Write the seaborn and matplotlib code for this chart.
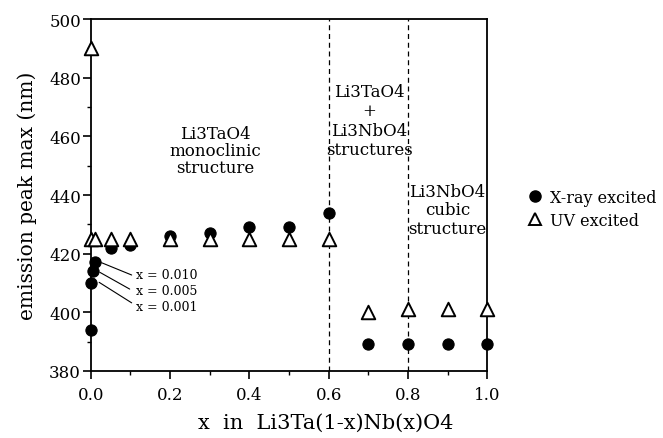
import matplotlib
matplotlib.use("Agg")
import matplotlib.pyplot as plt
import seaborn as sns
import pandas as pd
from matplotlib.lines import Line2D
from matplotlib.ticker import MultipleLocator

sns.set_theme(style="ticks")
plt.rcParams['font.family'] = ['DejaVu Serif']
plt.rcParams['text.color'] = 'black'
plt.rcParams['axes.labelcolor'] = 'black'
plt.rcParams['xtick.color'] = 'black'
plt.rcParams['ytick.color'] = 'black'

# X-ray excited (filled circles)
xray_x = [0.0, 0.001, 0.005, 0.010, 0.05, 0.1, 0.2, 0.3, 0.4, 0.5, 0.6, 0.7, 0.8, 0.9, 1.0]
xray_y = [394, 410, 414, 417, 422, 423, 426, 427, 429, 429, 434, 389, 389, 389, 389]

# UV excited (open triangles)
uv_x = [0.0, 0.0, 0.01, 0.05, 0.1, 0.2, 0.3, 0.4, 0.5, 0.6, 0.7, 0.8, 0.9, 1.0]
uv_y = [490, 425, 425, 425, 425, 425, 425, 425, 425, 425, 400, 401, 401, 401]

phase_bounds = [0.6, 0.8]
low_x_labels = ["x = 0.010", "x = 0.005", "x = 0.001"]

xray_df = pd.DataFrame({"x": xray_x, "y": xray_y})
uv_df = pd.DataFrame({"x": uv_x, "y": uv_y})

fig = plt.figure(figsize=(6.63, 4.39), dpi=100)
ax = fig.add_axes([0.137, 0.153, 0.598, 0.801])

for b in phase_bounds:
    ax.axvline(b, color="black", linestyle=(0, (4, 3)), linewidth=0.9, zorder=1)

sns.scatterplot(data=xray_df, x="x", y="y", ax=ax, marker="o", s=65,
                color="black", edgecolor="black", linewidth=0.8, clip_on=False, zorder=3)
sns.scatterplot(data=uv_df, x="x", y="y", ax=ax, marker="^", s=95,
                facecolor="white", edgecolor="black", linewidth=1.4, clip_on=False, zorder=4)

ax.set_xlim(0, 1.0)
ax.set_ylim(380, 500)
ax.xaxis.set_major_locator(MultipleLocator(0.2))
ax.xaxis.set_minor_locator(MultipleLocator(0.1))
ax.yaxis.set_major_locator(MultipleLocator(20))
ax.yaxis.set_minor_locator(MultipleLocator(10))
ax.set_xticks([0.0, 0.2, 0.4, 0.6, 0.8, 1.0])
ax.set_xticklabels(["0.0", "0.2", "0.4", "0.6", "0.8", "1.0"])
ax.tick_params(axis="both", which="major", direction="out", length=6, width=1.2,
               labelsize=12, color="black", labelcolor="black")
ax.tick_params(axis="y", which="major", pad=1)
ax.tick_params(axis="x", which="major", pad=5)
ax.tick_params(axis="both", which="minor", direction="out", length=3, width=1, color="black")
for sp in ax.spines.values():
    sp.set_color("black")
    sp.set_linewidth(1.3)

ax.set_xlabel("x  in  Li3Ta(1-x)Nb(x)O4", fontsize=15, color="black", va="center")
ax.xaxis.set_label_coords(0.593, -0.145)
ax.set_ylabel("emission peak max (nm)", fontsize=14.5, labelpad=9, color="black")

ax.text(0.313, 455.3, "Li3TaO4\nmonoclinic\nstructure", ha="center", va="center",
        fontsize=12, linespacing=1.0)
ax.text(0.702, 465.4, "Li3TaO4\n+\nLi3NbO4\nstructures", ha="center", va="center",
        fontsize=12, linespacing=1.19)
ax.text(0.899, 434.9, "Li3NbO4\ncubic\nstructure", ha="center", va="center",
        fontsize=12, linespacing=1.09)

line_starts = [(0.027, 416.9), (0.023, 413.6), (0.021, 410.2)]
line_ends = [(0.103, 412.7), (0.098, 407.9), (0.103, 403.2)]
text_y = [412.8, 407.3, 402.1]
for lab, (x0, y0), (x1, y1), ty in zip(low_x_labels, line_starts, line_ends, text_y):
    ax.plot([x0, x1], [y0, y1], color="black", lw=0.8, zorder=2)
    ax.text(0.114, ty, lab, fontsize=9, va="center", ha="left")

handles = [
    Line2D([], [], marker="o", color="black", linestyle="none", markersize=8),
    Line2D([], [], marker="^", markerfacecolor="white", markeredgecolor="black",
           markeredgewidth=1.4, linestyle="none", markersize=9),
]
fig.legend(handles, ["X-ray excited", "UV excited"], loc="center left",
           bbox_to_anchor=(0.783, 0.522), frameon=False, fontsize=11.5,
           borderpad=0, handletextpad=0.45, labelspacing=0.36, handlelength=1.0)

fig.savefig("out.png", dpi=100)
